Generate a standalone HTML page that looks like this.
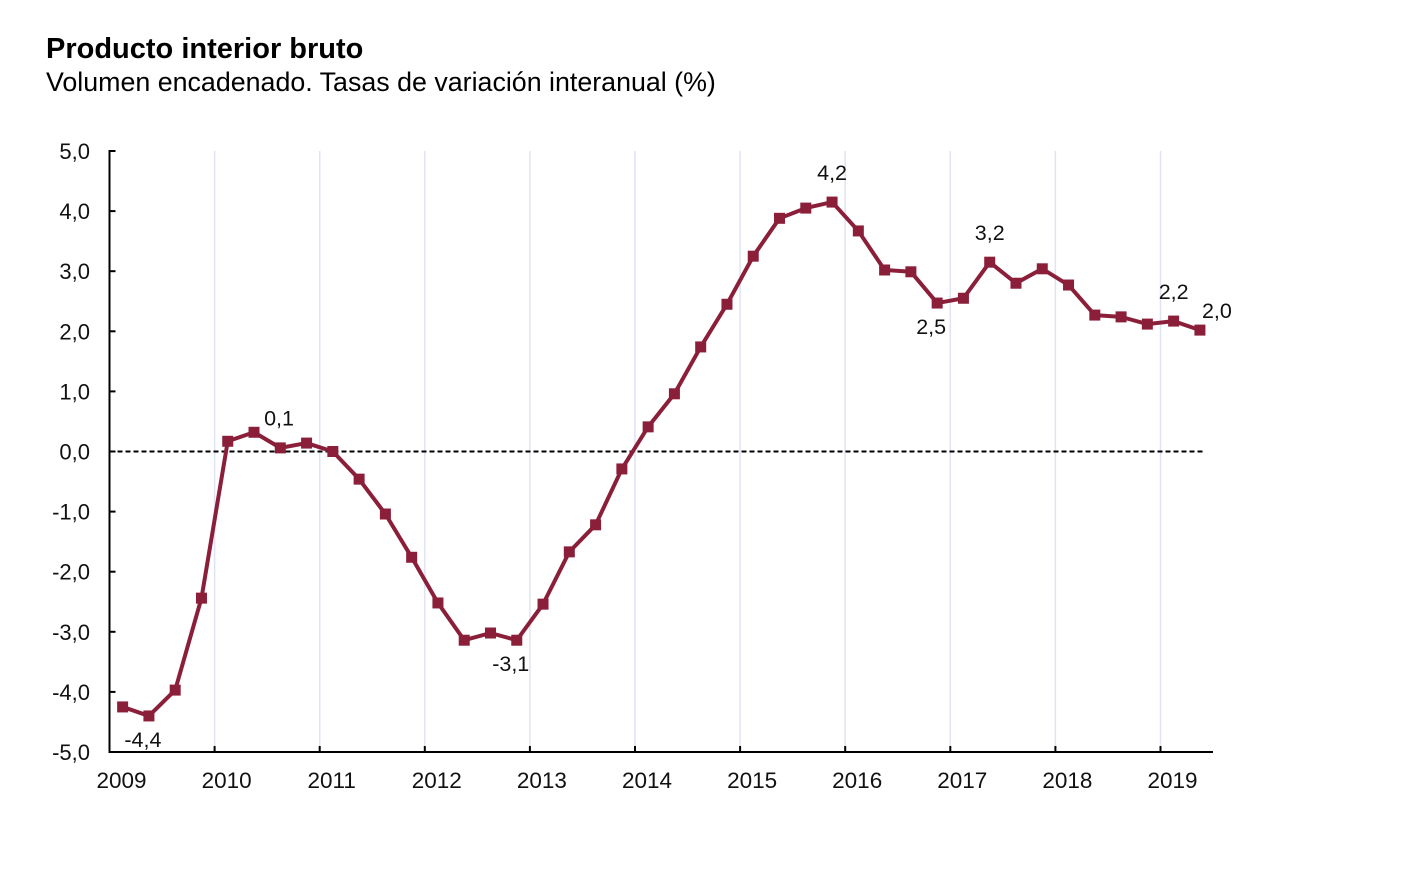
<!DOCTYPE html>
<html><head><meta charset="utf-8"><style>
body{margin:0;background:#fff;width:1410px;height:870px;overflow:hidden;font-family:"Liberation Sans",Arial,sans-serif}
#t{position:absolute;left:46px;top:33px;font-size:29px;font-weight:bold;color:#000}
#s{position:absolute;left:46px;top:67px;font-size:26.8px;color:#000}
svg{position:absolute;left:0;top:0}
</style></head><body>
<div id="t">Producto interior bruto</div>
<div id="s">Volumen encadenado. Tasas de variación interanual (%)</div>
<svg id="c" width="1410" height="870"></svg>
<script>
const years=[2009,2010,2011,2012,2013,2014,2015,2016,2017,2018,2019];
const yTicks=[5,4,3,2,1,0,-1,-2,-3,-4,-5];
const values=[-4.25,-4.4,-3.97,-2.44,0.17,0.32,0.06,0.14,0.0,-0.46,-1.04,-1.76,-2.52,-3.14,-3.02,-3.14,-2.54,-1.67,-1.22,-0.29,0.41,0.96,1.74,2.45,3.25,3.88,4.05,4.15,3.67,3.02,2.99,2.47,2.55,3.15,2.80,3.04,2.77,2.27,2.24,2.12,2.17,2.02];
const labelIdx=[1,5,15,27,31,33,40,41];
const labelText=["-4,4","0,1","-3,1","4,2","2,5","3,2","2,2","2,0"];
const labelPos=["below","aboveR2","below","above","below","above","above","aboveR"];
const NS="http://www.w3.org/2000/svg";
const svg=document.getElementById('c');
const X0=109.5,YW=105.1,Y0=451.5,PU=60.1;
const xs=i=>X0+YW*(i+0.5)/4;
const xy=yr=>X0+YW*(yr-2009);
const ys=v=>Y0-v*PU;
function mk(t,a){const e=document.createElementNS(NS,t);for(const k in a)e.setAttribute(k,a[k]);svg.appendChild(e);return e;}
years.forEach((yr,i)=>{
 if(i>0){const g=mk('line',{x1:xy(yr),x2:xy(yr),y1:151,y2:752,stroke:'#dfe3f3','stroke-width':1.5});
 
 }
 const tk=mk('line',{x1:xy(yr),x2:xy(yr),y1:746,y2:752,stroke:'#000','stroke-width':2});
 
 
 const t=mk('text',{x:xy(yr)+12,y:788,'font-size':22.5,'text-anchor':'middle',fill:'#111'});
 t.textContent=yr;
 
 
});
yTicks.forEach(v=>{
 const tk=mk('line',{x1:X0,x2:X0+6,y1:ys(v),y2:ys(v),stroke:'#000','stroke-width':2});
 
 
 const t=mk('text',{x:90,y:ys(v)+8,'font-size':22,'text-anchor':'end',fill:'#111'});
 t.textContent=v.toFixed(1).replace('.',',');
 
 
});
const ya=mk('line',{x1:X0,x2:X0,y1:150,y2:753,stroke:'#000','stroke-width':2});


const xa=mk('line',{x1:X0,x2:1213,y1:752,y2:752,stroke:'#000','stroke-width':2});


const zl=mk('line',{x1:X0,x2:1203,y1:ys(0),y2:ys(0),stroke:'#000','stroke-width':2,'stroke-dasharray':'5,3'});


const pl=mk('polyline',{points:values.map((v,i)=>xs(i)+','+ys(v)).join(' '),fill:'none',stroke:'#8b1f3a','stroke-width':4,'stroke-linejoin':'round'});


values.forEach((v,i)=>{
 const r=mk('rect',{x:xs(i)-5.5,y:ys(v)-5.5,width:11,height:11,fill:'#8b1f3a'});
 
 
});
labelIdx.forEach((idx,k)=>{
 let x=xs(idx),y=ys(values[idx]);
 let p=labelPos[k];
 if(p==='below'){y+=31;x-=6;}else if(p==='above'){y-=22;}else if(p==='aboveR2'){x+=25;y-=7;}else{x+=17;y-=12;}
 const t=mk('text',{x:x,y:y,'font-size':21.5,'text-anchor':'middle',fill:'#111'});
 t.textContent=labelText[k];
 
 
});
</script>
</body></html>
